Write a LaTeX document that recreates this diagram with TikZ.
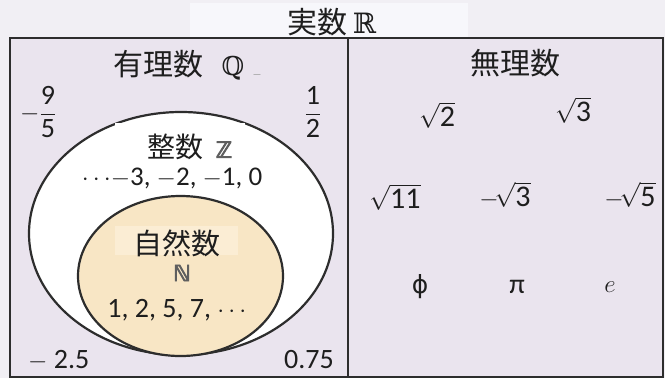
\documentclass[tikz,border=0pt]{standalone}
\usepackage{amsmath}
\usepackage{fontspec}
\setmainfont{Carlito}
\newfontfamily\cjk{Noto Sans CJK JP}
\newfontfamily\dblf{DejaVu Serif}
\newfontfamily\dbls{DejaVu Sans}
\newfontfamily\dblb{DejaVu Sans}[FakeBold=4]
\definecolor{bgtop}{RGB}{241,239,244}
\definecolor{lav}{RGB}{234,228,238}
\definecolor{titlebg}{RGB}{247,247,251}
\definecolor{peach}{RGB}{248,230,197}
\definecolor{peachlt}{RGB}{251,237,212}
\definecolor{txt}{RGB}{30,30,30}
\definecolor{edge}{RGB}{45,45,45}
\definecolor{dblgray}{RGB}{95,95,95}
\tikzset{
  lbl/.style={inner sep=0pt, text=txt},
  cjklbl/.style={lbl, font=\cjk\fontsize{30}{34}\selectfont},
  numlbl/.style={lbl, font=\fontsize{28}{32}\selectfont},
  rootlbl/.style={lbl, font=\fontsize{30}{34}\selectfont},
  boxline/.style={draw=edge, line width=2.2pt},
  ellline/.style={draw=edge, line width=2.2pt},
}
\begin{document}
\begin{tikzpicture}[x=1pt,y=-1pt]
\useasboundingbox (0,0) rectangle (665,378);
\fill[bgtop] (0,0) rectangle (665,378);
% main box
\fill[lav] (10,38) rectangle (663,377);
\draw[boxline] (10,38) rectangle (663,377);
\draw[boxline] (348,38) -- (348,377);
% title
\node (titlebox) [fill=titlebg, minimum width=278pt, minimum height=34pt, inner sep=0pt] at (329,20) {};
\node (title) [cjklbl] at (332,22) {実数\,{\dblf\fontsize{28}{30}\selectfont ℝ}};
% rational label
\node (qlab) [cjklbl, anchor=west] at (113,65) {有理数\ \ \,{\dblf\fontsize{26}{30}\selectfont ℚ}};
\node (qdash) [lbl, text=gray!70, font=\fontsize{14}{16}\selectfont] at (257,74) {\_};
% irrational label
\node (irlab) [cjklbl] at (515,63) {無理数};
% ellipses
\draw[ellline, fill=white] (181,233.5) ellipse [x radius=152pt, y radius=121.5pt];
\node (zbox) [fill=white, minimum width=130pt, minimum height=37pt, inner sep=0pt] at (180,141.5) {};
\draw[ellline, fill=peach] (180.5,276) ellipse [x radius=102.5pt, y radius=80pt];
\node (nbox) [fill=peachlt, minimum width=123pt, minimum height=29pt, inner sep=0pt] at (176.5,240.5) {};
% integer labels
\node (zlab) [cjklbl, font=\cjk\fontsize{28}{32}\selectfont, anchor=west] at (147,147) {整数\ \ {\dblb\color{dblgray}\fontsize{22}{26}\selectfont ℤ}};
\node (zlist) [numlbl, font=\fontsize{27}{32}\selectfont] at (172,178) {$\cdots\!{-}$3, $-$2, $-$1, 0};
\node (nlab) [cjklbl, font=\cjk\fontsize{29}{32}\selectfont] at (177,243) {自然数};
\node (nsym) [lbl, font=\dblb\fontsize{22}{26}\selectfont, text=dblgray] at (182,273) {ℕ};
\node (nlist) [numlbl] at (179,310) {1, 2, 5, 7, $\cdots$};
% rational numbers
\node (f95) [numlbl, anchor=west] at (20,112) {$-\dfrac{\mbox{9}}{\mbox{5}}$};
\node (f12) [numlbl] at (313,112) {$\dfrac{\mbox{1}}{\mbox{2}}$};
\node (m25) [numlbl, anchor=west] at (28,360) {$-$ 2.5};
\node (p075) [numlbl, anchor=east] at (334,360) {0.75};
% irrational numbers
\node (s2) [rootlbl] at (437,115) {$\sqrt{\mbox{2}}$};
\node (s3) [rootlbl] at (573,110) {$\sqrt{\mbox{3}}$};
\node (s11) [rootlbl] at (395,197) {$\sqrt{\mbox{11}}$};
\node (ms3) [rootlbl] at (505,195) {$-\!\sqrt{\mbox{3}}$};
\node (ms5) [rootlbl] at (630,195) {$-\!\sqrt{\mbox{5}}$};
\node (phi) [numlbl, font=\dbls\fontsize{25}{30}\selectfont] at (420,287) {ϕ};
\node (pi) [numlbl] at (517,287) {π};
\node (e) [numlbl] at (610,287) {$e$};
\end{tikzpicture}
\end{document}
